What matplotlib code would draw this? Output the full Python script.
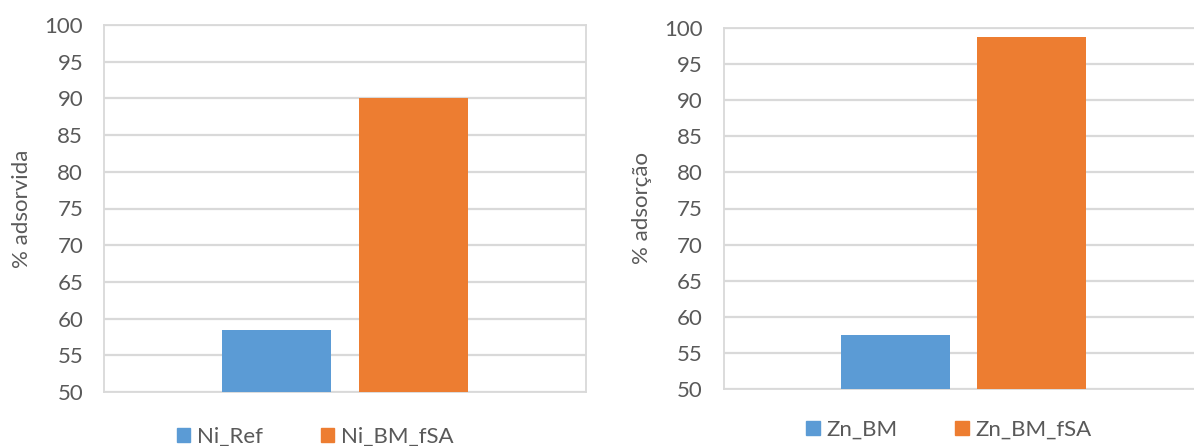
import matplotlib.pyplot as plt
from matplotlib.patches import Patch

# adsorption results for the two metals
ni_labels = ["Ni_Ref", "Ni_BM_fSA"]
ni_values = [58.45, 90.05]
zn_labels = ["Zn_BM", "Zn_BM_fSA"]
zn_values = [57.5, 98.75]
y_ticks = [50, 55, 60, 65, 70, 75, 80, 85, 90, 95, 100]

colors = ["#5B9BD5", "#ED7D31"]
grid_col = "#D9D9D9"
text_col = "#595959"

plt.rcParams['font.family'] = ['Lato', 'DejaVu Sans']

W, H = 1194, 446
fig = plt.figure(figsize=(W / 100, H / 100), dpi=100)


def px_axes(x0, y_top, x1, y_bot):
    return fig.add_axes([x0 / W, 1 - y_bot / H, (x1 - x0) / W, (y_bot - y_top) / H])


def bar_panel(ax, labels, values, ylabel, leg_center, leg_y):
    offsets = [-0.142, 0.142]
    for off, val, col in zip(offsets, values, colors):
        ax.bar(off, val - 50, bottom=50, width=0.226, color=col, zorder=3)
    ax.set_xlim(-0.5, 0.5)
    ax.set_ylim(50, 100)
    ax.set_yticks(y_ticks)
    ax.set_xticks([])
    ax.yaxis.grid(True, color=grid_col, linewidth=1.6, zorder=0)
    ax.tick_params(axis='y', length=0, pad=15, labelsize=16, labelcolor=text_col)
    for sp in ax.spines.values():
        sp.set_color(grid_col)
        sp.set_linewidth(1.3)
    ax.set_ylabel(ylabel, fontsize=16, color=text_col)
    ax.yaxis.set_label_coords(-0.149, 0.5)
    handles = [Patch(color=c) for c in colors]
    fig.legend(handles, labels, loc='center', ncol=2, frameon=False,
               bbox_to_anchor=(leg_center / W, 1 - leg_y / H),
               fontsize=16, labelcolor=text_col, handlelength=0.6,
               handleheight=0.6, handletextpad=0.3, columnspacing=2.6)


ax1 = px_axes(104, 25, 586, 392)
bar_panel(ax1, ni_labels, ni_values, "% adsorvida", 315, 437)

ax2 = px_axes(723.5, 28, 1203.5, 389)
bar_panel(ax2, zn_labels, zn_values, "% adsorção", 949, 430)

fig.savefig("out.png", dpi=100)
